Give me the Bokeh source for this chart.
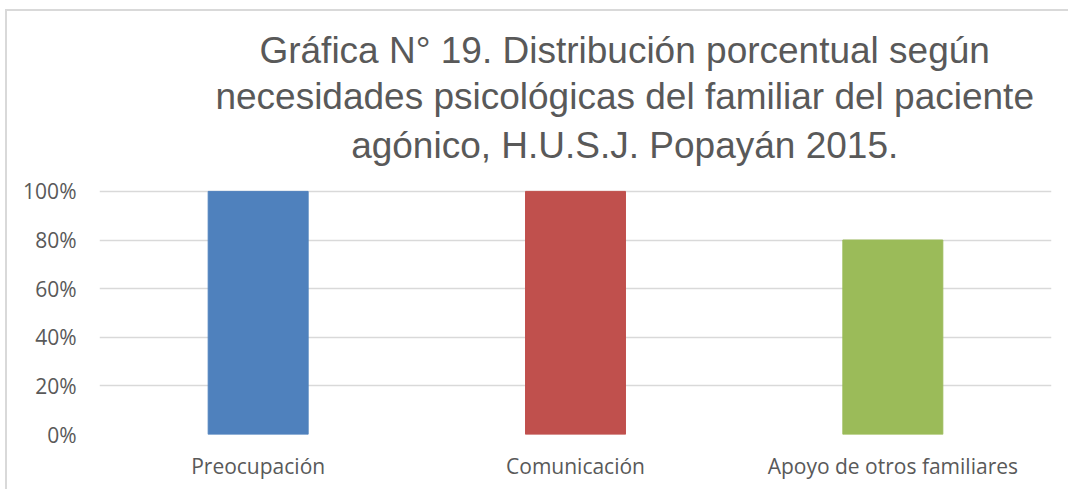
from bokeh.plotting import figure
from bokeh.models import Range1d, NumeralTickFormatter, FixedTicker, Label, ColumnDataSource
from bokeh.embed import file_html
from bokeh.resources import INLINE

categories = ["Preocupación", "Comunicación", "Apoyo de otros familiares"]
values = [1.0, 1.0, 0.8]
colors = ["#4F81BD", "#C0504D", "#9BBB59"]
y_ticks = [0, 0.2, 0.4, 0.6, 0.8, 1.0]
title_lines = ["Gráfica N° 19. Distribución porcentual según",
               "necesidades psicológicas del familiar del paciente",
               "agónico, H.U.S.J. Popayán 2015."]

src = ColumnDataSource(dict(cat=categories, val=values, color=colors))

# the frame reaches up to the top so that the title text can sit inside it
p = figure(x_range=categories, y_range=Range1d(0, 1.74), width=1063, height=480,
           output_backend="svg", toolbar_location=None,
           min_border_left=92, min_border_right=19, min_border_top=0, min_border_bottom=57)
p.styles = {"margin-left": "5px", "margin-top": "9px",
            "border-left": "2px solid #D9D9D9", "border-top": "2px solid #D9D9D9"}

p.vbar(x="cat", top="val", width=0.315, color="color", source=src)

title_x = 1.655
title_y = [1.580, 1.390, 1.188]
for line, ty in zip(title_lines, title_y):
    p.add_layout(Label(x=title_x, y=ty, text=line, text_align="center", text_baseline="middle",
                       text_font="Liberation Sans", text_font_size="37px", text_color="#595959"))

p.outline_line_color = None
p.xgrid.grid_line_color = None
p.ygrid.grid_line_color = "#D9D9D9"
p.ygrid.grid_line_width = 1.5
p.yaxis.ticker = FixedTicker(ticks=y_ticks)
p.yaxis.formatter = NumeralTickFormatter(format="0%")
for ax in (p.xaxis, p.yaxis):
    ax.axis_line_color = None
    ax.major_tick_line_color = None
    ax.minor_tick_line_color = None
    ax.major_label_text_font = "Open Sans"
    ax.major_label_text_font_size = "21px"
    ax.major_label_text_color = "#595959"
p.yaxis.major_label_standoff = 17
p.xaxis.major_label_standoff = 11
p.x_range.range_padding = 0

open("out.html", "w").write(file_html(p, INLINE))
